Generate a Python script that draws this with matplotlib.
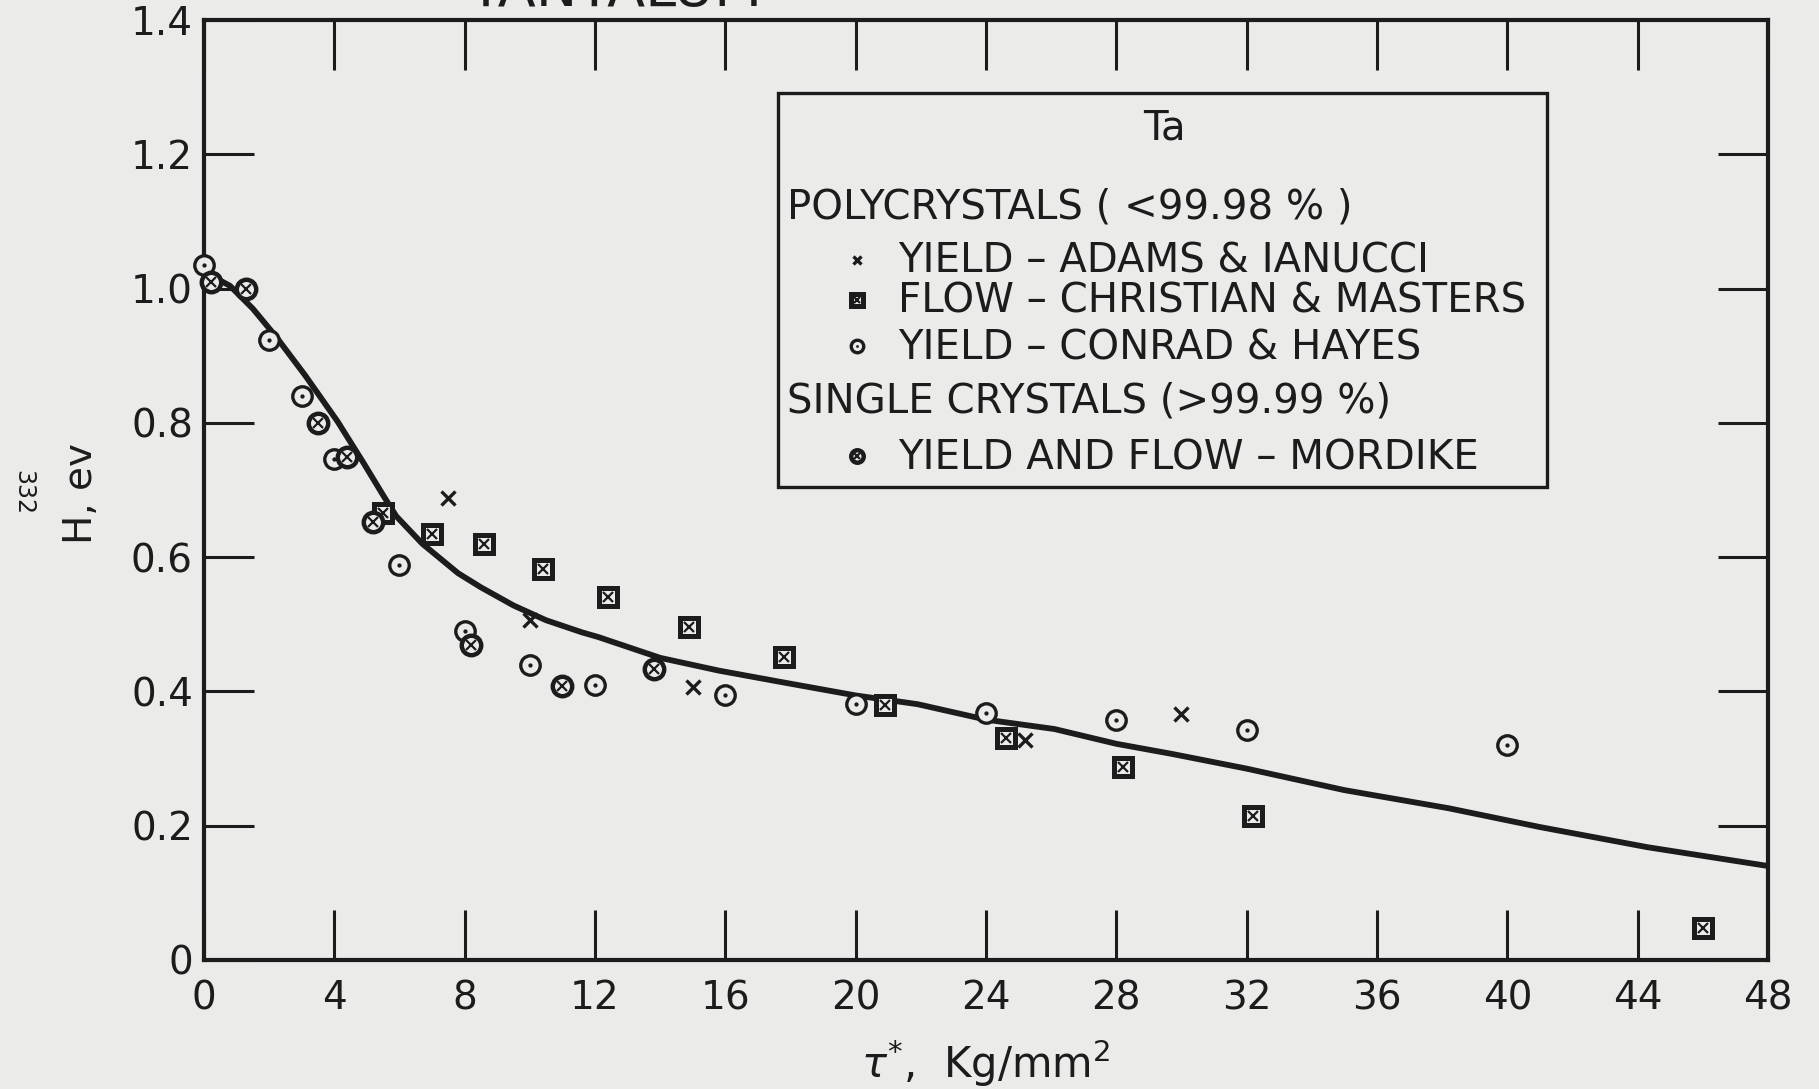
import matplotlib

matplotlib.use("Agg")
import matplotlib.pyplot as plt
from matplotlib.patches import Rectangle

# fitted curve
curve_x = [0, 0.8, 1.5, 2.2, 3.1, 4.1, 4.9, 5.5, 5.9, 6.7, 7.8, 8.5, 9.5, 10.5, 11.6,
           12.1, 14.0, 15.8, 17.6, 20.0, 21.9, 24.0, 26.1, 28.0, 29.7, 32.0, 35.0,
           38.2, 41.0, 44.3, 48.0]
curve_y = [1.025, 1.004, 0.97, 0.929, 0.871, 0.802, 0.74, 0.692, 0.661, 0.62, 0.576,
           0.555, 0.528, 0.506, 0.488, 0.481, 0.450, 0.431, 0.415, 0.394, 0.381,
           0.358, 0.344, 0.322, 0.307, 0.285, 0.253, 0.226, 0.198, 0.168, 0.14]

# yield - Adams & Ianucci (x)
adams_x = [7.5, 10.0, 15.0, 25.2, 30.0]
adams_y = [0.688, 0.507, 0.406, 0.328, 0.367]

# flow - Christian & Masters (boxed x)
christian_x = [5.5, 7.0, 8.6, 10.4, 12.4, 14.9, 17.8, 20.9, 24.6, 28.2, 32.2, 46.0]
christian_y = [0.666, 0.634, 0.620, 0.583, 0.541, 0.496, 0.451, 0.380, 0.330, 0.288,
               0.215, 0.048]

# yield - Conrad & Hayes (circled dot)
conrad_x = [0.0, 2.0, 3.0, 4.0, 6.0, 8.0, 10.0, 12.0, 16.0, 20.0, 24.0, 28.0, 32.0, 40.0]
conrad_y = [1.035, 0.924, 0.840, 0.746, 0.589, 0.490, 0.440, 0.409, 0.394, 0.381,
            0.368, 0.358, 0.342, 0.320]

# yield and flow - Mordike, single crystals (circled x)
mordike_x = [0.2, 1.3, 3.5, 4.4, 5.2, 8.2, 11.0, 13.8]
mordike_y = [1.01, 1.00, 0.80, 0.749, 0.653, 0.469, 0.408, 0.433]

x_ticks = list(range(0, 49, 4))
y_ticks = [0, 0.2, 0.4, 0.6, 0.8, 1.0, 1.2, 1.4]
y_tick_labels = ["0", "0.2", "0.4", "0.6", "0.8", "1.0", "1.2", "1.4"]

BG = "#ebebea"
INK = "#1c1c1c"

plt.rcParams["font.family"] = ["DejaVu Sans"]


def draw_marks(ax, xs, ys, kind, size, **kw):
    """Composite the hand-drawn symbols from two plain matplotlib markers."""
    common = dict(linestyle="none", color=INK, clip_on=False, zorder=5, **kw)
    if kind == "cross":
        ax.plot(xs, ys, marker="x", ms=size * 0.75, mew=2.4, **common)
    elif kind == "boxx":
        ax.plot(xs, ys, marker="s", ms=size, mfc=BG, mec=INK, mew=3.6, **common)
        ax.plot(xs, ys, marker="x", ms=size * 0.55, mew=1.6, **common)
    elif kind == "odot":
        ax.plot(xs, ys, marker="o", ms=size, mfc=BG, mec=INK, mew=2.4, **common)
        ax.plot(xs, ys, marker="o", ms=size * 0.22, mfc=INK, mec=INK, mew=0, **common)
    elif kind == "otimes":
        ax.plot(xs, ys, marker="o", ms=size, mfc=BG, mec=INK, mew=3.2, **common)
        ax.plot(xs, ys, marker="x", ms=size * 0.5, mew=1.6, **common)


fig = plt.figure(figsize=(18.19, 10.89), dpi=100, facecolor=BG)
ax = fig.add_axes([0.11215, 0.11846, 0.8598, 0.86318], facecolor=BG)

ax.plot(curve_x, curve_y, color=INK, lw=4.2, solid_capstyle="butt",
        solid_joinstyle="round", zorder=3)
draw_marks(ax, adams_x, adams_y, "cross", 12.5)
draw_marks(ax, christian_x, christian_y, "boxx", 13.5)
draw_marks(ax, conrad_x, conrad_y, "odot", 14)
draw_marks(ax, mordike_x, mordike_y, "otimes", 14)

ax.set_xlim(0, 48)
ax.set_ylim(0, 1.4)
ax.set_xticks(x_ticks)
ax.set_yticks(y_ticks)
ax.set_yticklabels(y_tick_labels)
ax.tick_params(axis="both", which="major", direction="in", length=36, width=2.2,
               color=INK, labelcolor=INK, labelsize=28,
               top=True, right=True, labeltop=False, labelright=False)
ax.tick_params(axis="x", pad=14)
ax.tick_params(axis="y", pad=8)
for spine in ax.spines.values():
    spine.set_linewidth(3.0)
    spine.set_color(INK)

ax.set_xlabel(r"$\tau^{*}$,  Kg/mm$^{2}$", fontsize=30, color=INK)
ax.xaxis.set_label_coords(0.5, -0.082)
ax.set_ylabel("H, ev", fontsize=28, color=INK)
ax.yaxis.set_label_coords(-0.0665, 0.496)

# legend box drawn by hand, as on the original sheet
ax.add_patch(Rectangle((0.367, 0.503), 0.492, 0.419, transform=ax.transAxes,
                       fill=True, facecolor=BG, edgecolor=INK, lw=2.4, zorder=6))
leg = dict(transform=ax.transAxes, fontsize=29, color=INK, va="center", zorder=7)
ax.text(0.6144, 0.885, "Ta", ha="center", **leg)
ax.text(0.373, 0.800, "POLYCRYSTALS ( <99.98 % )", ha="left", **leg)
ax.text(0.4437, 0.743, "YIELD – ADAMS & IANUCCI", ha="left", **leg)
ax.text(0.4437, 0.700, "FLOW – CHRISTIAN & MASTERS", ha="left", **leg)
ax.text(0.4437, 0.651, "YIELD – CONRAD & HAYES", ha="left", **leg)
ax.text(0.373, 0.594, "SINGLE CRYSTALS (>99.99 %)", ha="left", **leg)
ax.text(0.4437, 0.534, "YIELD AND FLOW – MORDIKE", ha="left", **leg)
leg_mx = 0.4176
draw_marks(ax, [leg_mx], [0.745], "cross", 8, transform=ax.transAxes)
draw_marks(ax, [leg_mx], [0.702], "boxx", 9, transform=ax.transAxes)
draw_marks(ax, [leg_mx], [0.653], "odot", 9, transform=ax.transAxes)
draw_marks(ax, [leg_mx], [0.536], "otimes", 9, transform=ax.transAxes)
for line in ax.lines[-8:]:
    line.set_zorder(8)

# title is cut off by the page edge in the scan: only its foot shows
fig.text(0.338, 1 - 6 / 1089, "TANTALUM", ha="center", va="baseline", fontsize=40,
         color=INK)
fig.text(0.0126, 0.548, "332", rotation=270, ha="center", va="center", fontsize=17,
         color=INK)

fig.savefig("out.png", dpi=100, facecolor=BG)
